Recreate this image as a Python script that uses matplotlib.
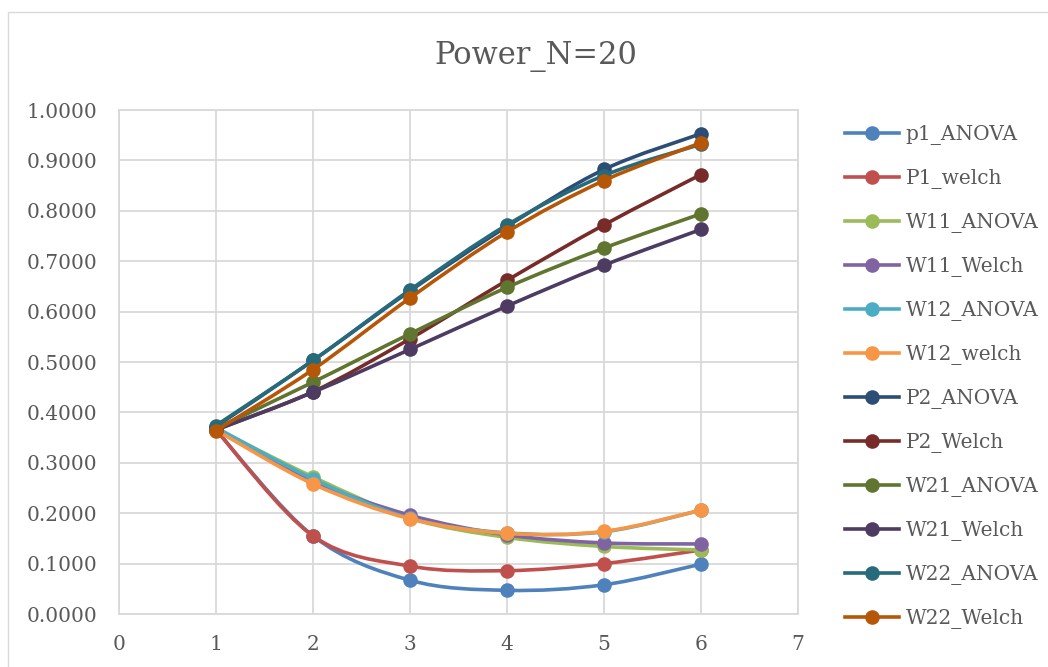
import numpy as np
import matplotlib
matplotlib.use("Agg")
import matplotlib.pyplot as plt
from matplotlib.path import Path
from matplotlib.patches import PathPatch, Rectangle
from matplotlib.lines import Line2D

x = [1, 2, 3, 4, 5, 6]
labels = ["p1_ANOVA", "P1_welch", "W11_ANOVA", "W11_Welch", "W12_ANOVA", "W12_welch",
          "P2_ANOVA", "P2_Welch", "W21_ANOVA", "W21_Welch", "W22_ANOVA", "W22_Welch"]
p1_anova = [0.365, 0.155, 0.067, 0.047, 0.058, 0.099]
p1_welch = [0.365, 0.155, 0.095, 0.086, 0.100, 0.127]
w11_anova = [0.368, 0.272, 0.190, 0.152, 0.134, 0.127]
w11_welch = [0.366, 0.264, 0.196, 0.157, 0.141, 0.139]
w12_anova = [0.370, 0.268, 0.190, 0.161, 0.163, 0.206]
w12_welch = [0.365, 0.258, 0.189, 0.160, 0.164, 0.206]
p2_anova = [0.372, 0.503, 0.641, 0.769, 0.882, 0.953]
p2_welch = [0.366, 0.441, 0.546, 0.662, 0.772, 0.872]
w21_anova = [0.368, 0.460, 0.556, 0.648, 0.726, 0.794]
w21_welch = [0.365, 0.440, 0.525, 0.611, 0.692, 0.763]
w22_anova = [0.374, 0.503, 0.643, 0.772, 0.870, 0.932]
w22_welch = [0.364, 0.485, 0.627, 0.758, 0.860, 0.935]
series = [p1_anova, p1_welch, w11_anova, w11_welch, w12_anova, w12_welch,
          p2_anova, p2_welch, w21_anova, w21_welch, w22_anova, w22_welch]
colors = ["#4F81BD", "#C0504D", "#9BBB59", "#8064A2", "#4BACC6", "#F79646",
          "#2C4D75", "#772C2A", "#5F7530", "#4D3B62", "#276A7C", "#B65708"]
xticks = [0, 1, 2, 3, 4, 5, 6, 7]
yticks = [0.0, 0.1, 0.2, 0.3, 0.4, 0.5, 0.6, 0.7, 0.8, 0.9, 1.0]

FONT = "DejaVu Serif"
TXT = "#595959"
W, H = 1048, 667
fig = plt.figure(figsize=(W / 100, H / 100), dpi=100)
fig.patches.append(Rectangle((8 / W, -0.1), 1.2, (H - 12) / H + 0.1, transform=fig.transFigure,
                             fill=False, edgecolor="#d9d9d9", linewidth=1.0, zorder=0))

ax = fig.add_axes([119 / W, (H - 614) / H, (798 - 119) / W, (614 - 110) / H])
ax.set_xlim(0, 7)
ax.set_ylim(0, 1.0)
ax.set_xticks(xticks)
ax.set_yticks(yticks)
ax.set_xticklabels([str(t) for t in xticks])
ax.set_yticklabels([f"{t:.4f}" for t in yticks])
ax.tick_params(length=0, labelsize=14.5, colors=TXT)
ax.tick_params(axis="x", pad=15)
ax.tick_params(axis="y", pad=15.5)
for lab in ax.get_xticklabels() + ax.get_yticklabels():
    lab.set_fontfamily(FONT)
ax.grid(True, color="#d9d9d9", linewidth=1.3)
ax.set_axisbelow(True)
for s in ax.spines.values():
    s.set_color("#d9d9d9")
    s.set_linewidth(1.3)


def smooth_path(xs, ys):
    pts = np.column_stack([xs, ys]).astype(float)
    n = len(pts)
    verts = [pts[0]]
    codes = [Path.MOVETO]
    for i in range(n - 1):
        p0 = pts[i - 1] if i > 0 else pts[i]
        p1 = pts[i]
        p2 = pts[i + 1]
        p3 = pts[i + 2] if i + 2 < n else pts[i + 1]
        c1 = p1 + (p2 - p0) / 6.0
        c2 = p2 - (p3 - p1) / 6.0
        verts += [c1, c2, p2]
        codes += [Path.CURVE4] * 3
    return Path(verts, codes)


handles = []
for k, (ys, c, lab) in enumerate(zip(series, colors, labels)):
    patch = PathPatch(smooth_path(x, ys), facecolor="none", edgecolor=c,
                      linewidth=2.6, capstyle="round", joinstyle="round", zorder=3 + 2 * k)
    ax.add_patch(patch)
    ax.plot(x, ys, linestyle="none", marker="o", markersize=10.5, color=c,
            markeredgewidth=0, zorder=4 + 2 * k)
    handles.append(Line2D([], [], color=c, linewidth=2.6, marker="o", markersize=10.5,
                          markeredgewidth=0))

fig.text(536 / W, 1 - 57 / H, "Power_N=20", ha="center", va="center", fontsize=22,
         color=TXT, family=FONT)

leg = fig.legend(handles, labels, loc="upper left", bbox_to_anchor=(845 / W, 1 - 125 / H),
                 frameon=False, handlelength=2.7, handletextpad=0.3, labelspacing=1.19,
                 prop={"family": FONT, "size": 14.5}, borderaxespad=0, borderpad=0)
for t in leg.get_texts():
    t.set_color(TXT)

fig.savefig("out.png", dpi=100)
